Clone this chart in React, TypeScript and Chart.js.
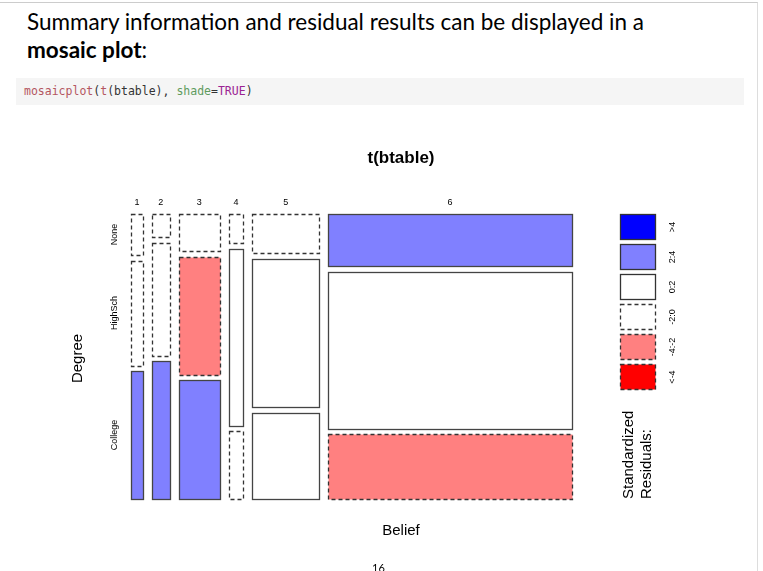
import { Chart, registerables } from 'chart.js';
import { useEffect, useRef } from 'react';

Chart.register(...registerables);

// Belief columns (x) and Degree rows (y, bottom to top)
const beliefs = ['1', '2', '3', '4', '5', '6'];
const degrees = ['College', 'HighSch', 'None'];
const beliefWidths = [12, 18, 41, 15, 67, 245];
const collegeHeights = [128, 138, 119, 68, 86, 65];
const highSchHeights = [105, 113, 118, 177, 148, 157];
const noneHeights = [41, 23, 37, 29, 39, 52];
// residual class per cell: 0 "<-4", 1 "-4:-2", 2 "-2:0", 3 "0:2", 4 "2:4", 5 ">4"
const collegeResid = [4, 4, 4, 2, 3, 1];
const highSchResid = [2, 2, 1, 3, 3, 3];
const noneResid = [2, 2, 2, 2, 2, 4];
const legendLabels = ['<-4', '-4:-2', '-2:0', '0:2', '2:4', '>4'];
const legendFill = ['#ff0000', '#ff8080', '#ffffff', '#ffffff', '#8080ff', '#0000ff'];

const GAP_X = 9;
const GAP_Y = 5.5;

const mosaicPlugin = {
  id: 'mosaic',
  afterDraw(chart: Chart) {
    const ctx = chart.ctx;
    const xs = chart.scales.x;
    const ys = chart.scales.y;
    const px = (v: number) => xs.getPixelForValue(v);
    const py = (v: number) => ys.getPixelForValue(v);
    const totalW = beliefWidths.reduce((a, b) => a + b, 0) + GAP_X * (beliefs.length - 1);
    const font = "'Liberation Sans', Arial, sans-serif";
    ctx.save();
    const rect = (x0: number, y0: number, x1: number, y1: number, r: number) => {
      const a = Math.round(px(x0)) + 0.5, b = Math.round(py(y1)) + 0.5;
      const w = Math.round(px(x1)) - Math.round(px(x0)), h = Math.round(py(y0)) - Math.round(py(y1));
      ctx.fillStyle = legendFill[r];
      ctx.fillRect(a, b, w, h);
      ctx.setLineDash(r <= 2 ? [4, 3] : []);
      ctx.lineWidth = 1.3;
      ctx.strokeStyle = r <= 2 ? '#333' : '#444';
      ctx.strokeRect(a, b, w, h);
    };
    let x = 0;
    beliefs.forEach((lab, i) => {
      const x0 = x / totalW, x1 = (x + beliefWidths[i]) / totalW;
      const heights = [collegeHeights[i], highSchHeights[i], noneHeights[i]];
      const resid = [collegeResid[i], highSchResid[i], noneResid[i]];
      const totalH = heights.reduce((a, b) => a + b, 0) + GAP_Y * 2;
      let y = 0;
      heights.forEach((h, j) => {
        rect(x0, y / totalH, x1, (y + h) / totalH, resid[j]);
        if (i === 0) {
          ctx.save();
          ctx.translate(px(0) - 16, py((y + h / 2) / totalH));
          ctx.rotate(-Math.PI / 2);
          ctx.fillStyle = '#000';
          ctx.font = `9px ${font}`;
          ctx.textAlign = 'center';
          ctx.textBaseline = 'middle';
          ctx.fillText(degrees[j], 0, 0);
          ctx.restore();
        }
        y += h + GAP_Y;
      });
      ctx.setLineDash([]);
      ctx.fillStyle = '#000';
      ctx.font = `9px ${font}`;
      ctx.textAlign = 'center';
      ctx.textBaseline = 'middle';
      ctx.fillText(lab, (px(x0) + px(x1)) / 2, py(1) - 11);
      x += beliefWidths[i] + GAP_X;
    });
    const area = chart.chartArea;
    ctx.fillStyle = '#000';
    ctx.font = `bold 17px ${font}`;
    ctx.textAlign = 'center';
    ctx.fillText('t(btable)', 401, 28);
    ctx.font = `15px ${font}`;
    ctx.fillText('Belief', 401, area.bottom + 32);
    ctx.save();
    ctx.translate(78, (area.top + area.bottom) / 2 + 2);
    ctx.rotate(-Math.PI / 2);
    ctx.fillText('Degree', 0, 0);
    ctx.restore();
    // legend
    for (let k = 5; k >= 0; k--) {
      const top = area.top + (5 - k) * 30;
      ctx.fillStyle = legendFill[k];
      ctx.fillRect(620.5, top + 0.5, 35, 25);
      ctx.setLineDash(k <= 2 ? [4, 3] : []);
      ctx.lineWidth = 1.3;
      ctx.strokeStyle = '#333';
      ctx.strokeRect(620.5, top + 0.5, 35, 25);
      ctx.setLineDash([]);
      ctx.save();
      ctx.translate(673, top + 13);
      ctx.rotate(-Math.PI / 2);
      ctx.fillStyle = '#000';
      ctx.font = `9px ${font}`;
      ctx.fillText(legendLabels[k], 0, 0);
      ctx.restore();
    }
    ctx.save();
    ctx.translate(633, area.bottom);
    ctx.rotate(-Math.PI / 2);
    ctx.fillStyle = '#000';
    ctx.font = `15px ${font}`;
    ctx.textAlign = 'left';
    ctx.textBaseline = 'alphabetic';
    ctx.fillText('Standardized', 0, 0);
    ctx.fillText('Residuals:', 0, 18);
    ctx.restore();
    ctx.restore();
  },
};

const MosaicChart: React.FC = () => {
  const chartRef = useRef<HTMLCanvasElement>(null);
  const chartInstanceRef = useRef<Chart | null>(null);

  useEffect(() => {
    const ctx = chartRef.current?.getContext('2d');
    if (ctx && chartInstanceRef.current === null) {
      chartInstanceRef.current = new Chart(ctx, {
        type: 'scatter',
        data: { datasets: [{ data: [], pointRadius: 0 }] },
        options: {
          responsive: false,
          animation: false,
          devicePixelRatio: 1,
          layout: { padding: { left: 131, right: 191, top: 84, bottom: 72 } },
          scales: {
            x: { type: 'linear', min: 0, max: 1, display: false },
            y: { type: 'linear', min: 0, max: 1, display: false },
          },
          plugins: { legend: { display: false }, tooltip: { enabled: false }, title: { display: false } },
        },
        plugins: [mosaicPlugin],
      });
    }
    return () => {
      if (chartInstanceRef.current) {
        chartInstanceRef.current.destroy();
        chartInstanceRef.current = null;
      }
    };
  }, []);

  return <canvas ref={chartRef} width={763} height={441} style={{ position: 'absolute', left: 0, top: 130 }} />;
};

const App: React.FC = () => {
  const sans = "'Lato', 'Open Sans', sans-serif";
  return (
    <div style={{ position: 'fixed', left: 0, top: 0, width: 763, height: 571, background: '#fff', overflow: 'hidden' }}>
      <div style={{ position: 'absolute', left: 0, top: 2, width: 757, borderTop: '1px solid #ccc', height: 571, borderRight: '1px solid #ddd' }} />
      <div style={{ position: 'absolute', left: 27, top: 8, fontFamily: sans, fontSize: 22.5, lineHeight: '28px', color: '#000' }}>
        Summary information and residual results can be displayed in a<br />
        <b>mosaic plot</b>:
      </div>
      <div style={{ position: 'absolute', left: 16, top: 78, width: 728, height: 27, background: '#f5f5f5' }}>
        <span style={{ position: 'absolute', left: 8, top: 6, fontFamily: "'DejaVu Sans Mono', monospace", fontSize: 11.5, color: '#333' }}>
          <span style={{ color: '#b4555f' }}>mosaicplot</span>(<span style={{ color: '#b4555f' }}>t</span>(btable), <span style={{ color: '#5f9b5f' }}>shade</span>=<span style={{ color: '#9b2393' }}>TRUE</span>)
        </span>
      </div>
      <MosaicChart />
      <div style={{ position: 'absolute', left: 372, top: 561, fontFamily: sans, fontSize: 11 }}>16</div>
    </div>
  );
};

export default App;
